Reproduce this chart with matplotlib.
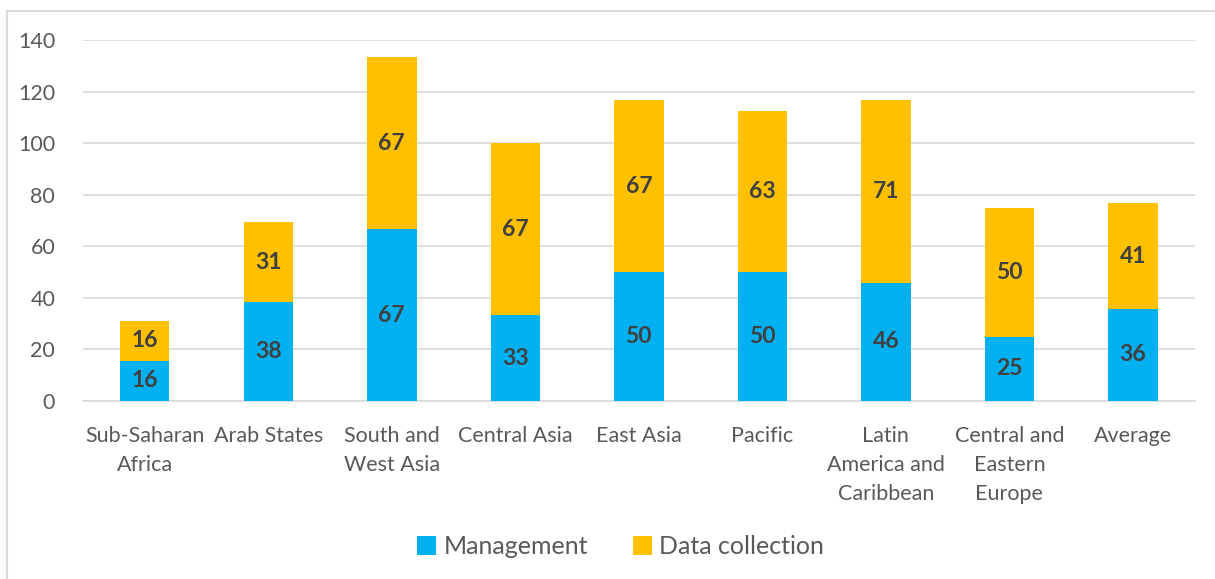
import numpy as np
import matplotlib.pyplot as plt
from matplotlib.patches import Rectangle

regions = ['Sub-Saharan\nAfrica', 'Arab States', 'South and\nWest Asia', 'Central Asia',
           'East Asia', 'Pacific', 'Latin\nAmerica and\nCaribbean', 'Central and\nEastern\nEurope',
           'Average']
management = [15.6, 38.5, 66.7, 33.3, 50.0, 50.0, 45.8, 25.0, 35.7]
data_collection = [15.6, 30.8, 66.7, 66.7, 66.7, 62.6, 70.8, 50.0, 40.9]

plt.rcParams['font.family'] = ['Lato', 'DejaVu Sans']

fig = plt.figure(figsize=(12.15, 5.79), dpi=100)
ax = fig.add_axes([0.0683, 0.3074, 0.915, 0.6235])

x = np.arange(len(regions))
b1 = ax.bar(x, management, width=0.4, color='#00b0f0', label='Management', zorder=3)
b2 = ax.bar(x, data_collection, width=0.4, bottom=management, color='#ffc000',
            label='Data collection', zorder=3)

for bars, vals in [(b1, management), (b2, data_collection)]:
    for rect, v in zip(bars, vals):
        ax.text(rect.get_x() + rect.get_width() / 2, rect.get_y() + rect.get_height() / 2,
                f'{v:.0f}', ha='center', va='center', fontsize=16.5, fontweight='bold',
                color='#404040', zorder=4)

ax.set_xlim(-0.5, len(regions) - 0.5)
ax.set_ylim(0, 140)
ax.set_yticks(range(0, 141, 20))
ax.set_xticks(x)
ax.set_xticklabels(regions, fontsize=15.5, color='#595959', linespacing=1.55)
ax.tick_params(axis='y', labelsize=15.5, labelcolor='#595959', length=0, pad=20)
ax.tick_params(axis='x', length=0, pad=18)
ax.grid(axis='y', color='#d9d9d9', lw=1.2, zorder=0)
for s in ['top', 'right', 'left']:
    ax.spines[s].set_visible(False)
ax.spines['bottom'].set_color('#d9d9d9')
ax.spines['bottom'].set_linewidth(1.2)

fig.legend(handles=[b1, b2], loc='center', bbox_to_anchor=(0.511, 0.056), ncol=2,
           frameon=False, fontsize=18, labelcolor='#595959', handlelength=0.75,
           handleheight=0.75, handletextpad=0.3, columnspacing=1.8)

fig.patches.append(Rectangle((7 / 1215, -0.1), 1.2, 1.1 - 11 / 579, transform=fig.transFigure,
                             fill=False, edgecolor='#d9d9d9', lw=1.5))

fig.savefig('out.png', dpi=100)
